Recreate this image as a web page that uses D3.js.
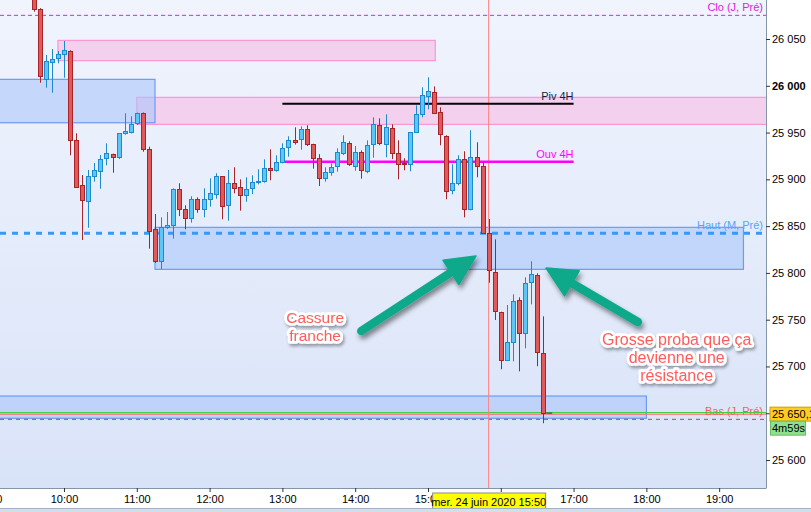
<!DOCTYPE html>
<html><head><meta charset="utf-8">
<script src="https://cdn.jsdelivr.net/npm/d3@7"></script>
<style>body{margin:0;background:#fff}svg{display:block;font-family:"Liberation Sans",Arial,sans-serif}</style>
</head><body><svg id="c" width="811" height="512"></svg>
<script>
// ---------- DATA ----------
const times = ["09:35","09:40","09:45","09:50","09:55",
"10:00","10:05","10:10","10:15","10:20","10:25","10:30","10:35","10:40","10:45","10:50","10:55",
"11:00","11:05","11:10","11:15","11:20","11:25","11:30","11:35","11:40","11:45","11:50","11:55",
"12:00","12:05","12:10","12:15","12:20","12:25","12:30","12:35","12:40","12:45","12:50","12:55",
"13:00","13:05","13:10","13:15","13:20","13:25","13:30","13:35","13:40","13:45","13:50","13:55",
"14:00","14:05","14:10","14:15","14:20","14:25","14:30","14:35","14:40","14:45","14:50","14:55",
"15:00","15:05","15:10","15:15","15:20","15:25","15:30","15:35","15:40","15:45","15:50","15:55",
"16:00","16:05","16:10","16:15","16:20","16:25","16:30","16:35"];
const opens = [26105,26082.5,26006.9,26025.7,26029.4,
26034.3,26036.9,25941.7,25893.6,25876.5,25903.3,25908.6,25922.5,25926.8,25923.6,25949.2,25950.3,
25959.9,25970.6,25932.1,25846.6,25813.0,25849.4,25850.9,25890.0,25868.0,25858.4,25878.7,25868.0,
25878.7,25884.0,25903.3,25872.3,25895.8,25891.5,25882.9,25890.4,25897.5,25897.9,25911.8,25909.7,
25918.5,25934.3,25941.7,25942.8,25953.5,25937.5,25922.5,25901.1,25907.5,25913.9,25927.8,25938.5,
25913.9,25928.9,25908.6,25937.5,25957.8,25937.5,25954.6,25927.8,25917.1,25916.1,25950.3,25969.5,
25988.8,25993.0,25971.7,25946.0,25888.3,25895.8,25921.4,25868.0,25923.6,25914.3,25843.0,25801.3,
25757.9,25706.6,25725.8,25770.7,25735.4,25790.0,25797.5,25714.1];
const highs = [26112,26083,26032.9,26039.3,26037.2,
26047.9,26038,25949.2,25904.6,25910.0,25917.5,25926.0,25938.5,25927.5,25949.5,25970.6,25967.4,
25971.4,25971.5,25934.9,25863.0,25859.4,25865.1,25890.4,25895.8,25872.3,25881.9,25880.8,25890.4,
25901.1,25906.5,25903.5,25910.0,25912.9,25900.0,25902.2,25904.3,25910.7,25921.4,25932.1,25925.7,
25938.5,25946.0,25955.6,25956.7,25957.8,25938,25926.9,25912.9,25917.1,25933.2,25947.1,25940.7,
25935.6,25931.0,25941.7,25966.3,25965.2,25969.5,25958.8,25941.7,25922.5,25950.6,25979.1,25998.4,
26009.1,25999.4,25977.0,25947.1,25916.1,25925.7,25930.0,25952.4,25939.6,25918.5,25857.6,25835.9,
25758.5,25765.7,25777.1,25773.9,25795.3,25812.4,25799.6,25753.6];
const lows = [26079.2,26003.3,25998.0,25992.6,26024.0,
26008.6,25925.7,25891.3,25835.2,25848.3,25897.5,25890.0,25915.0,25907.1,25921.7,25947.7,25949.0,
25958.1,25929.5,25825.9,25810.6,25803.9,25846.9,25836.6,25860.8,25846.6,25853.7,25864.3,25859.4,
25870.8,25879.3,25857.3,25855.8,25885.1,25866.5,25876.1,25884.3,25894.7,25896.4,25899.0,25908.2,
25917.1,25924.2,25937.2,25931.7,25935.6,25911.4,25892.9,25897.5,25903.9,25908.2,25926.0,25914.3,
25909.2,25900.7,25906.5,25923.1,25936.4,25923.6,25921.7,25900.0,25909.7,25908.6,25949.5,25966.3,
25974.9,25969.8,25936.4,25878.7,25884.0,25893.6,25859.4,25866.9,25902.2,25841.6,25789.5,25749.7,
25697.0,25705.9,25705.5,25694.8,25719.4,25766.4,25700.2,25639.3];
const closes = [26081.7,26010.1,26026.2,26028.3,26033.6,
26037.9,25941.7,25892.1,25877.6,25903.3,25909.7,25921.4,25927.8,25923.6,25949.2,25951.3,25958.8,
25970.6,25932.1,25845.1,25813.0,25849.4,25851.7,25889.4,25868.0,25858.4,25878.7,25868.0,25878.7,
25885.1,25903.3,25871.2,25895.8,25890.4,25882.9,25889.4,25896.8,25898.2,25911.8,25909.7,25918.2,
25933.2,25941.7,25940.1,25953.5,25937.5,25923.1,25901.1,25907.5,25912.9,25928.9,25939.6,25916.1,
25928.9,25909.7,25936.4,25958.8,25938.5,25955.6,25927.8,25916.1,25916.1,25950.3,25969.5,25989.8,
25994.1,25970.6,25948.1,25887.2,25895.8,25921.4,25868.0,25923.6,25913.9,25843.0,25803.1,25759.0,
25706.6,25725.8,25769.7,25735.4,25788.9,25798.5,25715.1,25650.1];

const yTicks = [25600,25650,25700,25750,25800,25850,25900,25950,26000,26050];
const xTicks = ["09:00","10:00","11:00","12:00","13:00","14:00","15:00","16:00","17:00","18:00","19:00"];
const xTickLabels = ["9:00","10:00","11:00","12:00","13:00","14:00","15:00","16:00","17:00","18:00","19:00"];

// zones (time start/end, price top/bottom); null = chart edge
const pinkZones = [
  {start:"09:55", end:"15:06", top:26048.6, bottom:26026.8},
  {start:"11:00", end:null, top:25987.7, bottom:25958.8}
];
const blueZones = [
  {start:null, end:"11:15", top:26006.9, bottom:25960.5},
  {start:"11:15", end:"19:20", top:25848.7, bottom:25803.8},
  {start:null, end:"18:00", top:25668.4, bottom:25644.6}
];
const segLevels = [
  {name:"Piv 4H", price:25980.9, start:"13:00", end:"17:00", color:"#000000", label:"#1a1a3a", width:2},
  {name:"Ouv 4H", price:25918.9, start:"13:00", end:"17:00", color:"#ff00ff", label:"#ff00ff", width:2.5}
];
const dashLevels = [
  {name:"Clo (J, Pré)", price:26075.3, color:"#e020e0", label:"#e020e0", width:1, dash:"4,3"},
  {name:"Haut (M, Pré)", price:25842.3, color:"#3399ff", label:"#55a5ff", width:3, dash:"6,6"},
  {name:"Bas (J, Pré)", price:25643.5, color:"#e83040", label:"#ff5a5a", width:1, dash:"4,4"}
];
const priceLineGreen = 25650.8;
const priceLineRed = 25649.0;
const lastPriceLabel = "25 650,1";
const timerLabel = "4m59s";
const cursorTime = "15:50";
const cursorLabel = "mer. 24 juin 2020 15:50";
const arrows = [
  {from:["14:05",25737.9], to:["15:39.6",25818.1]},
  {from:["17:53",25747.5], to:["16:37.3",25805.2]}
];
const notes = [
  {lines:["Cassure","franche"], t:"13:27", p:25746.5, size:15.5},
  {lines:["Grosse proba que ça","devienne une","résistance"], t:"18:25", p:25723.0, size:16}
];

// ---------- SCALES ----------
const W = 811, H = 512, PR = 766, PB = 488;
const day = (s) => { const [h,m] = s.split(":").map(Number); const d = new Date(2020,5,24,0,0,0); d.setTime(d.getTime() + (h*60+m)*60000); return d; };
const x = d3.scaleTime().domain([day("09:07.25"), day("19:38.6")]).range([0, PR]);
const y = d3.scaleLinear().domain([25570.1, 26091.7]).range([PB, 0]);

const svg = d3.select("#c");
const defs = svg.append("defs");
const grad = defs.append("linearGradient").attr("id","bg").attr("x1",0).attr("y1",0).attr("x2",0).attr("y2",1);
grad.append("stop").attr("offset","0%").attr("stop-color","#f0f4fd");
grad.append("stop").attr("offset","100%").attr("stop-color","#d9e3f8");
defs.append("clipPath").attr("id","clip").append("rect").attr("x",0).attr("y",0).attr("width",PR).attr("height",PB);
const f1 = defs.append("filter").attr("id","sh").attr("x","-30%").attr("y","-30%").attr("width","160%").attr("height","160%");
f1.append("feDropShadow").attr("dx",2).attr("dy",4).attr("stdDeviation",2.5).attr("flood-color","#000").attr("flood-opacity",0.45);
const f2 = defs.append("filter").attr("id","tsh").attr("x","-20%").attr("y","-30%").attr("width","140%").attr("height","160%");
f2.append("feDropShadow").attr("dx",1.5).attr("dy",2.5).attr("stdDeviation",1.8).attr("flood-color","#000").attr("flood-opacity",0.35);

svg.append("rect").attr("width",W).attr("height",H).attr("fill","#ffffff");
svg.append("rect").attr("x",0).attr("y",0).attr("width",PR).attr("height",PB).attr("fill","url(#bg)");

const g = svg.append("g").attr("clip-path","url(#clip)");
const xs = (t) => t === null ? null : x(day(t));

// zones
pinkZones.forEach(z => {
  const x0 = z.start===null ? -2 : xs(z.start), x1 = z.end===null ? PR+2 : xs(z.end);
  g.append("rect").attr("x",x0).attr("y",y(z.top)).attr("width",x1-x0).attr("height",y(z.bottom)-y(z.top))
   .attr("fill","#f2d0ee").attr("stroke","#ff88cc").attr("stroke-width",1);
});
blueZones.forEach(z => {
  const x0 = z.start===null ? -2 : xs(z.start), x1 = z.end===null ? PR+2 : xs(z.end);
  g.append("rect").attr("x",x0).attr("y",y(z.top)).attr("width",x1-x0).attr("height",y(z.bottom)-y(z.top))
   .attr("fill","#a8c4fa").attr("fill-opacity",0.58).attr("stroke","#6a9cf2").attr("stroke-width",1.2);
});

// dashed levels
dashLevels.forEach(l => {
  g.append("line").attr("x1",0).attr("x2",PR).attr("y1",y(l.price)).attr("y2",y(l.price))
   .attr("stroke",l.color).attr("stroke-width",l.width).attr("stroke-dasharray",l.dash);
  g.append("text").attr("x",PR-3).attr("y",y(l.price)-4).attr("text-anchor","end")
   .attr("font-size",11).attr("fill",l.label).text(l.name);
});
// price lines
g.append("line").attr("x1",0).attr("x2",PR).attr("y1",y(priceLineGreen)).attr("y2",y(priceLineGreen)).attr("stroke","#44cc44").attr("stroke-width",1.2);
g.append("line").attr("x1",0).attr("x2",PR).attr("y1",y(priceLineRed)).attr("y2",y(priceLineRed)).attr("stroke","#ff6060").attr("stroke-width",1);

// cursor
g.append("line").attr("x1",xs(cursorTime)).attr("x2",xs(cursorTime)).attr("y1",0).attr("y2",PB)
 .attr("stroke","#ff8080").attr("stroke-width",1);

// segment levels
segLevels.forEach(l => {
  g.append("line").attr("x1",xs(l.start)).attr("x2",xs(l.end)).attr("y1",y(l.price)).attr("y2",y(l.price))
   .attr("stroke",l.color).attr("stroke-width",l.width);
  g.append("text").attr("x",xs(l.end)).attr("y",y(l.price)-3.5).attr("text-anchor","end")
   .attr("font-size",11).attr("fill",l.label).text(l.name);
});

// candles
const candles = times.map((t,i) => ({t, o:opens[i], h:highs[i], l:lows[i], c:closes[i]}));
const cg = g.append("g");
candles.forEach(d => {
  const up = d.c >= d.o;
  const cx = Math.round(xs(d.t)) + 0.5;
  const stroke = up ? "#1b8bd0" : "#a82428";
  const fill = up ? "#5ec6f6" : "#e05a5c";
  cg.append("line").attr("x1",cx).attr("x2",cx).attr("y1",y(d.h)).attr("y2",y(d.l)).attr("stroke",stroke).attr("stroke-width",1);
  const yt = Math.round(y(Math.max(d.o,d.c))) + 0.5, yb = Math.round(y(Math.min(d.o,d.c))) + 0.5;
  cg.append("rect").attr("x",cx-2).attr("y",yt).attr("width",4).attr("height",Math.max(1,yb-yt))
    .attr("fill",fill).attr("stroke",stroke).attr("stroke-width",1);
});
// last price tick
const lastT = times[times.length-1];
g.append("line").attr("x1",xs(lastT)+3).attr("x2",xs(lastT)+9).attr("y1",y(closes[closes.length-1])).attr("y2",y(closes[closes.length-1]))
 .attr("stroke","#2a7a4a").attr("stroke-width",1.5);

// arrows
arrows.forEach(a => {
  const x1 = xs(a.from[0]), y1 = y(a.from[1]), x2 = xs(a.to[0]), y2 = y(a.to[1]);
  const dx = x2-x1, dy = y2-y1, L = Math.hypot(dx,dy), ux = dx/L, uy = dy/L, nx = -uy, ny = ux;
  const hl = 30, hw = 14.5;
  const bx = x2-ux*hl, by = y2-uy*hl;
  const ag = svg.append("g").attr("filter","url(#sh)");
  ag.append("line").attr("x1",x1).attr("y1",y1).attr("x2",bx+ux*4).attr("y2",by+uy*4)
    .attr("stroke","#0fa98a").attr("stroke-width",8.5).attr("stroke-linecap","round");
  ag.append("path").attr("d",`M${x2},${y2}L${bx+nx*hw},${by+ny*hw}L${bx-nx*hw},${by-ny*hw}Z`)
    .attr("fill","#0fa98a").attr("stroke","#0fa98a").attr("stroke-width",1.5).attr("stroke-linejoin","round");
});

// notes
notes.forEach(n => {
  const t = svg.append("text").attr("x",xs(n.t)).attr("y",y(n.p)).attr("text-anchor","middle")
    .attr("font-size",n.size).attr("fill","#ff5c5c").attr("stroke","#ffffff").attr("stroke-width",5.5)
    .attr("stroke-linejoin","round").attr("paint-order","stroke").attr("filter","url(#tsh)");
  n.lines.forEach((s,i) => t.append("tspan").attr("x",xs(n.t)).attr("dy", i===0?0:18).text(s));
});

// axes
const fmt = (v) => String(v).replace(/\B(?=(\d{3})+(?!\d))/g, " ");
const ya = svg.append("g").attr("transform",`translate(${PR},0)`)
  .call(d3.axisRight(y).tickValues(yTicks).tickSize(4).tickPadding(2).tickFormat(fmt));
ya.select(".domain").attr("stroke","#8595a8").attr("d",`M0.5,0V${PB}`);
ya.selectAll(".tick line").attr("stroke","#333");
ya.selectAll(".tick text").attr("font-size",11).attr("font-family","Liberation Sans, Arial, sans-serif").attr("fill","#000")
  .attr("font-weight",d => d===26000 ? "bold" : "normal");

const xa = svg.append("g").attr("transform",`translate(0,${PB})`)
  .call(d3.axisBottom(x).tickValues(xTicks.map(day)).tickSize(4).tickPadding(3).tickFormat((d,i)=>xTickLabels[i]));
xa.select(".domain").attr("stroke","#8595a8").attr("d",`M0,0.5H${PR+0.5}`);
xa.selectAll(".tick line").attr("stroke","#333");
xa.selectAll(".tick text").attr("font-size",11).attr("font-family","Liberation Sans, Arial, sans-serif").attr("fill","#000");

// cursor label on time axis
const cxl = xs(cursorTime);
svg.append("rect").attr("x",cxl-56).attr("y",493).attr("width",113).attr("height",17).attr("fill","#ffff00").attr("stroke","#8a8a8a");
svg.append("text").attr("x",cxl).attr("y",505.5).attr("text-anchor","middle").attr("font-size",11).attr("fill","#000").text(cursorLabel);

// price label
const py = y(closes[closes.length-1]);
svg.append("rect").attr("x",770).attr("y",py-6).attr("width",45).attr("height",14).attr("fill","#ffcc22").attr("stroke","#c8a000");
svg.append("text").attr("x",772).attr("y",py+5).attr("font-size",11).attr("fill","#000").text(lastPriceLabel);
svg.append("rect").attr("x",770.5).attr("y",py+8).attr("width",35).attr("height",14).attr("fill","#8ee08e").attr("stroke","#66bb66");
svg.append("text").attr("x",772).attr("y",py+19).attr("font-size",11).attr("fill","#000").text(timerLabel);

// bottom strip
svg.append("rect").attr("x",0).attr("y",508).attr("width",W).attr("height",4).attr("fill","#d3dfe8");
svg.append("line").attr("x1",0).attr("x2",W).attr("y1",508.5).attr("y2",508.5).attr("stroke","#a3b3c3");
</script></body></html>
